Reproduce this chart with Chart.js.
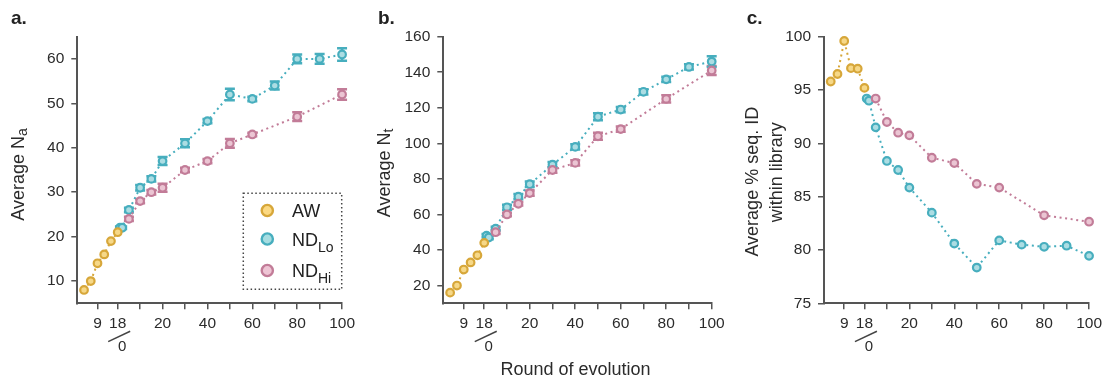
<!DOCTYPE html>
<html>
<head>
<meta charset="utf-8">
<script src="https://cdn.jsdelivr.net/npm/chart.js@4.4.1/dist/chart.umd.min.js"></script>
<style>
  html, body { margin: 0; padding: 0; background: #fff; }
  #wrap { position: relative; width: 1107px; height: 381px; }
  .panel { position: absolute; top: 0; height: 381px; }
</style>
</head>
<body>
<div id="wrap">
  <div class="panel" style="left:0;width:360px"><canvas id="chartA"></canvas></div>
  <div class="panel" style="left:360px;width:370px"><canvas id="chartB"></canvas></div>
  <div class="panel" style="left:730px;width:377px"><canvas id="chartC"></canvas></div>
</div>
<script>
// AW rounds are drawn left of ND round 0 (AW round 18 feeds ND round 0)
const AW_LAST = 18;
const AW_ROUNDS = [3, 6, 9, 12, 15, 18];
const LO_ROUNDS = [1, 2, 5, 10, 15, 20, 30, 40, 50, 60, 70, 80, 90, 100];
const HI_ROUNDS = [5, 10, 15, 20, 30, 40, 50, 60, 80, 100];

const X_TICKS = [-9, 0, 10, 20, 30, 40, 50, 60, 70, 80, 90, 100];
const X_TICK_LABELS = ["9", "18", "", "20", "", "40", "", "60", "", "80", "", "100"];

// a. average Na
const NA_AW = [8, 10, 14, 16, 19, 21];
const NA_LO = [22, 22, 26, 31, 33, 37, 41, 46, 52, 51, 54, 60, 60, 61];
const NA_LO_ERR = [0.3, 0.3, 0.5, 0.6, 0.6, 0.9, 0.9, 0.5, 1.3, 0.5, 0.9, 1.0, 1.1, 1.4];
const NA_HI = [24, 28, 30, 31, 35, 37, 41, 43, 47, 52];
const NA_HI_ERR = [0.5, 0.5, 0.5, 0.9, 0.5, 0.5, 1.0, 0.4, 1.0, 1.2];
const NA_TICKS = [10, 20, 30, 40, 50, 60];

// b. average Nt
const NT_AW = [16, 20, 29, 33, 37, 44];
const NT_LO = [48, 47, 52, 64, 70, 77, 88, 98, 115, 119, 129, 136, 143, 146];
const NT_LO_ERR = [1, 1, 1, 1.5, 1.5, 1.5, 1.5, 1.5, 2, 1.5, 1.5, 1.5, 1.5, 3];
const NT_HI = [50, 60, 66, 72, 85, 89, 104, 108, 125, 141];
const NT_HI_ERR = [1, 1, 1, 1.5, 1.5, 1.5, 2, 1.5, 2, 2.5];
const NT_TICKS = [20, 40, 60, 80, 100, 120, 140, 160];

// c. average % sequence identity within library
const ID_AW = [95.8, 96.5, 99.6, 97.05, 97.0, 95.2];
const ID_LO = [94.2, 94.0, 91.5, 88.35, 87.5, 85.85, 83.5, 80.6, 78.35, 80.9, 80.5, 80.3, 80.4, 79.45];
const ID_HI = [94.2, 92.0, 91.0, 90.75, 88.65, 88.15, 86.2, 85.85, 83.25, 82.65];
const ID_TICKS = [75, 80, 85, 90, 95, 100];

const COLORS = {
  aw: { line: "#d7a73a", fill: "#f6d888", key: "#fcd982" },
  lo: { line: "#47aebe", fill: "#acdde3", key: "#a6dde1" },
  hi: { line: "#c27c98", fill: "#ebc5d3", key: "#eec4d4" },
};

const FONT = "'Liberation Sans', Arial, sans-serif";
const INK = "#2b2b2b";
Chart.defaults.font.family = FONT;
Chart.defaults.color = INK;

const CANVAS_H = 381;
const AREA_TOP = 36.7;
const AREA_BOTTOM = 303.3;

function points(rounds, values, shift) {
  return rounds.map((r, i) => ({ x: r - shift, y: values[i] }));
}

function series(label, c, data, errors) {
  return {
    label,
    data,
    errors: errors || null,
    borderColor: c.line,
    backgroundColor: c.fill,
    borderWidth: 2,
    borderDash: [2, 3.6],
    pointRadius: 3.8,
    pointBorderWidth: 2.2,
    pointBackgroundColor: c.fill,
    pointBorderColor: c.line,
    tension: 0,
    clip: false,
  };
}

// vertical error bars with caps, drawn under the markers
const errorBars = {
  id: "errorBars",
  beforeDatasetsDraw(chart) {
    const { ctx, scales } = chart;
    chart.data.datasets.forEach((ds) => {
      if (!ds.errors) return;
      ctx.save();
      ctx.strokeStyle = ds.borderColor;
      ctx.lineWidth = 2.5;
      ds.data.forEach((p, i) => {
        const e = ds.errors[i];
        const x = scales.x.getPixelForValue(p.x);
        const y0 = scales.y.getPixelForValue(p.y - e);
        const y1 = scales.y.getPixelForValue(p.y + e);
        ctx.beginPath();
        ctx.moveTo(x, y0); ctx.lineTo(x, y1);
        ctx.moveTo(x - 5, y0); ctx.lineTo(x + 5, y0);
        ctx.moveTo(x - 5, y1); ctx.lineTo(x + 5, y1);
        ctx.stroke();
      });
      ctx.restore();
    });
  },
};

function drawSubText(ctx, x, y, main, sub, size, subSize, drop) {
  ctx.font = size + "px " + FONT;
  ctx.fillText(main, x, y);
  if (!sub) return;
  const w = ctx.measureText(main).width;
  ctx.font = subSize + "px " + FONT;
  ctx.fillText(sub, x + w, y + drop);
}

// panel letter, axis titles, broken-axis mark and key
const decor = {
  id: "decor",
  afterDraw(chart, args, opts) {
    const { ctx, chartArea, scales } = chart;
    ctx.save();
    ctx.fillStyle = "#222";
    ctx.textBaseline = "alphabetic";
    ctx.textAlign = "left";
    ctx.font = "bold 19px " + FONT;
    ctx.fillText(opts.letter, opts.letterX, 23.5);

    // y titles, rotated
    ctx.fillStyle = INK;
    (opts.yTitles || []).forEach((t) => {
      ctx.save();
      ctx.translate(t.x, t.y);
      ctx.rotate(-Math.PI / 2);
      ctx.textBaseline = "middle";
      ctx.font = "18px " + FONT;
      let w = ctx.measureText(t.text).width;
      let sw = 0;
      if (t.sub) {
        ctx.font = "14px " + FONT;
        sw = ctx.measureText(t.sub).width;
      }
      drawSubText(ctx, -(w + sw) / 2, 0, t.text, t.sub, 18, 14, 4);
      ctx.restore();
    });

    // x title
    if (opts.xTitle) {
      ctx.textAlign = "center";
      ctx.font = "18px " + FONT;
      ctx.fillText(opts.xTitle, (chartArea.left + chartArea.right) / 2 - 2, 374.5);
    }

    // 18 / 0 junction under the x axis
    const x0 = scales.x.getPixelForValue(0);
    const b = chartArea.bottom;
    ctx.strokeStyle = "#444";
    ctx.lineWidth = 1.5;
    ctx.beginPath();
    ctx.moveTo(x0 - 9.5, b + 38.3);
    ctx.lineTo(x0 + 12.5, b + 28);
    ctx.stroke();
    ctx.textAlign = "center";
    ctx.textBaseline = "middle";
    ctx.font = "15px " + FONT;
    ctx.fillText("0", x0 + 4.5, b + 43.4);

    if (opts.key) {
      const k = opts.key;
      ctx.setLineDash([1.5, 2.5]);
      ctx.strokeStyle = "#444";
      ctx.lineWidth = 1.5;
      ctx.strokeRect(k.left, k.top, k.width, k.height);
      ctx.setLineDash([]);
      k.rows.forEach((row) => {
        ctx.beginPath();
        ctx.arc(k.markX, row.y, 5.6, 0, Math.PI * 2);
        ctx.fillStyle = row.c.key;
        ctx.fill();
        ctx.lineWidth = 2.4;
        ctx.strokeStyle = row.c.line;
        ctx.stroke();
        ctx.fillStyle = "#222";
        ctx.textAlign = "left";
        ctx.textBaseline = "alphabetic";
        drawSubText(ctx, k.textX, row.y + 6.5, row.text, row.sub, 18, 14, 6);
      });
    }
    ctx.restore();
  },
};

function makeChart(id, cfg) {
  const axisGrid = {
    display: true,
    drawOnChartArea: false,
    drawTicks: true,
    tickLength: 6,
    color: "#555",
    lineWidth: 1.5,
  };
  const axisBorder = { display: true, color: "#555", width: 2 };

  return new Chart(document.getElementById(id), {
    type: "line",
    data: {
      datasets: [
        series("AW", COLORS.aw, points(AW_ROUNDS, cfg.aw, AW_LAST), null),
        series("NDHi", COLORS.hi, points(HI_ROUNDS, cfg.hi, 0), cfg.hiErr),
        series("NDLo", COLORS.lo, points(LO_ROUNDS, cfg.lo, 0), cfg.loErr),
      ],
    },
    options: {
      responsive: true,
      maintainAspectRatio: false,
      animation: false,
      layout: { padding: { top: AREA_TOP, right: cfg.padRight, bottom: 0, left: 0 } },
      plugins: {
        legend: { display: false },
        tooltip: { enabled: false },
        decor: cfg.decor,
      },
      scales: {
        x: {
          type: "linear",
          min: -AW_LAST,
          max: 100,
          grid: axisGrid,
          border: axisBorder,
          afterBuildTicks: (s) => { s.ticks = X_TICKS.map((v) => ({ value: v })); },
          afterFit: (s) => { s.height = CANVAS_H - AREA_BOTTOM; },
          ticks: {
            autoSkip: false,
            maxRotation: 0,
            padding: 5,
            font: { size: 15.5 },
            color: INK,
            callback: (v) => X_TICK_LABELS[X_TICKS.indexOf(v)],
          },
        },
        y: {
          min: cfg.yMin,
          max: cfg.yMax,
          grid: axisGrid,
          border: axisBorder,
          afterBuildTicks: (s) => { s.ticks = cfg.yTicks.map((v) => ({ value: v })); },
          afterFit: (s) => { s.width = cfg.yAxisWidth; },
          ticks: { padding: 7, font: { size: 15.5 }, color: INK },
        },
      },
    },
    plugins: [errorBars, decor],
  });
}

makeChart("chartA", {
  aw: NA_AW, lo: NA_LO, hi: NA_HI, loErr: NA_LO_ERR, hiErr: NA_HI_ERR,
  yMin: 5, yMax: 65, yTicks: NA_TICKS, yAxisWidth: 77.3, padRight: 15,
  decor: {
    letter: "a.", letterX: 11,
    yTitles: [{ text: "Average N", sub: "a", x: 19, y: 174.5 }],
    key: {
      left: 243.3, top: 193.3, width: 98.4, height: 96,
      markX: 267.3, textX: 292,
      rows: [
        { c: COLORS.aw, y: 210.5, text: "AW", sub: "" },
        { c: COLORS.lo, y: 239, text: "ND", sub: "Lo" },
        { c: COLORS.hi, y: 270.5, text: "ND", sub: "Hi" },
      ],
    },
  },
});

makeChart("chartB", {
  aw: NT_AW, lo: NT_LO, hi: NT_HI, loErr: NT_LO_ERR, hiErr: NT_HI_ERR,
  yMin: 10, yMax: 160, yTicks: NT_TICKS, yAxisWidth: 83.3, padRight: 18.3,
  decor: {
    letter: "b.", letterX: 18,
    yTitles: [{ text: "Average N", sub: "t", x: 25, y: 173 }],
    xTitle: "Round of evolution",
  },
});

makeChart("chartC", {
  aw: ID_AW, lo: ID_LO, hi: ID_HI, loErr: null, hiErr: null,
  yMin: 75, yMax: 100, yTicks: ID_TICKS, yAxisWidth: 94, padRight: 15.3,
  decor: {
    letter: "c.", letterX: 16.7,
    yTitles: [
      { text: "Average % seq. ID", sub: "", x: 22.7, y: 181.7 },
      { text: "within library", sub: "", x: 46.7, y: 172.3 },
    ],
  },
});
</script>
</body>
</html>
